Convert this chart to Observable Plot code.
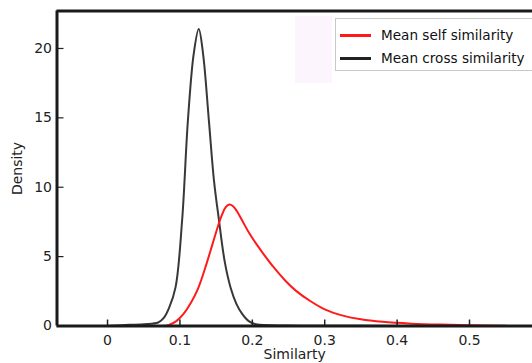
<!DOCTYPE html>
<html>
<head>
<meta charset="utf-8">
<script src="https://cdn.jsdelivr.net/npm/d3@7"></script>
<script src="https://cdn.jsdelivr.net/npm/@observablehq/plot@0.6"></script>
<style>
  html, body { margin: 0; padding: 0; background: #fff; overflow: hidden; }
  #wrap { position: relative; width: 532px; height: 363px; }
  #legend-back { position: absolute; left: 295px; top: 16px; width: 37px; height: 67px; background: #fdf5fd; }
  #legend { position: absolute; left: 335px; top: 18px; width: 210px; height: 53px; border: 1px solid #c8c8c8; background: #fff; box-sizing: border-box; font-family: "DejaVu Sans", sans-serif; font-size: 13.6px; color: #111; }
  .item { position: absolute; left: 0; height: 16px; }
  .sw { position: absolute; left: 4px; width: 31px; height: 3px; }
  .lbl { position: absolute; left: 45px; white-space: nowrap; }
</style>
</head>
<body>
<div id="wrap"></div>
<script>
// Data
const seriesNames = ["Mean self similarity", "Mean cross similarity"];
const seriesColors = ["#ff1a1a", "#222222"];

const crossX = [-0.003, 0.02, 0.05, 0.07, 0.078, 0.085, 0.094, 0.103, 0.111, 0.119, 0.126, 0.132, 0.140, 0.147, 0.154, 0.162, 0.170, 0.178, 0.186, 0.195, 0.205, 0.25, 0.35, 0.45, 0.55];
const crossY = [0.0, 0.06, 0.13, 0.25, 0.6, 1.3, 2.8, 7.6, 14.8, 19.6, 21.4, 19.6, 14.8, 10.5, 7.6, 4.6, 2.76, 1.6, 0.87, 0.35, 0.12, 0.03, 0.01, 0.0, 0.0];

const selfX = [0.075, 0.085, 0.095, 0.105, 0.115, 0.125, 0.135, 0.145, 0.152, 0.158, 0.163, 0.168, 0.173, 0.179, 0.186, 0.195, 0.205, 0.216, 0.230, 0.245, 0.260, 0.280, 0.300, 0.325, 0.350, 0.380, 0.420, 0.460, 0.500, 0.550];
const selfY = [0.0, 0.08, 0.35, 0.87, 1.65, 2.7, 4.2, 5.9, 7.1, 8.0, 8.55, 8.75, 8.65, 8.25, 7.6, 6.75, 5.95, 5.15, 4.2, 3.3, 2.55, 1.8, 1.2, 0.75, 0.48, 0.3, 0.17, 0.1, 0.06, 0.02];

const xTicks = [0, 0.1, 0.2, 0.3, 0.4, 0.5];
const yTicks = [0, 5, 10, 15, 20];
const xDomain = [-0.0698, 0.587];
const yDomain = [0, 22.7];

const crossData = crossX.map((x, i) => ({x, y: crossY[i]}));
const selfData = selfX.map((x, i) => ({x, y: selfY[i]}));

const font = "DejaVu Sans, sans-serif";
const W = 532, H = 363, mL = 56.5, mR = 0, mT = 10.5, mB = 37.5;
const innerW = W - mL - mR, innerH = H - mT - mB;

const chart = Plot.plot({
  width: W,
  height: H,
  marginLeft: mL,
  marginRight: mR,
  marginTop: mT,
  marginBottom: mB,
  style: {fontFamily: font, fontSize: "14px", color: "#222", background: "transparent"},
  x: {domain: xDomain, ticks: xTicks},
  y: {domain: yDomain, ticks: yTicks},
  marks: [
    Plot.line(crossData, {x: "x", y: "y", stroke: seriesColors[1], strokeWidth: 2, curve: "catmull-rom", strokeOpacity: 0.9}),
    Plot.line(selfData, {x: "x", y: "y", stroke: seriesColors[0], strokeWidth: 2, curve: "catmull-rom"}),
    // inward tick marks
    Plot.ruleX(xTicks, {x: d => d, insetTop: innerH - 6, stroke: "#222", strokeWidth: 1.5}),
    Plot.ruleY(yTicks, {y: d => d, insetRight: innerW - 7, stroke: "#222", strokeWidth: 1.2}),
    // tick labels
    Plot.axisX(xTicks, {tickSize: 0, tickPadding: 9, tickFormat: d => String(d), fill: "#222", label: "Similarty", labelAnchor: "center", labelOffset: 33, labelArrow: "none"}),
    Plot.axisY(yTicks, {tickSize: 0, tickPadding: 5, tickFormat: d => String(d), fill: "#222", label: "Density", labelAnchor: "center", labelOffset: 45, labelArrow: "none"}),
    // frame lines
    Plot.ruleX([xDomain[0]], {stroke: "#1a1a1a", strokeWidth: 3}),
    Plot.ruleY([yDomain[0]], {stroke: "#1a1a1a", strokeWidth: 3}),
    Plot.ruleY([yDomain[1]], {stroke: "#1a1a1a", strokeWidth: 3})
  ]
});

const wrap = document.getElementById("wrap");
wrap.appendChild(chart);

const back = document.createElement("div");
back.id = "legend-back";
wrap.appendChild(back);

const legend = document.createElement("div");
legend.id = "legend";
seriesNames.forEach((name, i) => {
  const item = document.createElement("div");
  item.className = "item";
  item.style.top = (i === 0 ? 8 : 31) + "px";
  const sw = document.createElement("div");
  sw.className = "sw";
  sw.style.background = seriesColors[i];
  sw.style.top = "7px";
  const lbl = document.createElement("div");
  lbl.className = "lbl";
  lbl.textContent = name;
  item.appendChild(sw);
  item.appendChild(lbl);
  legend.appendChild(item);
});
wrap.appendChild(legend);
</script>
</body>
</html>
